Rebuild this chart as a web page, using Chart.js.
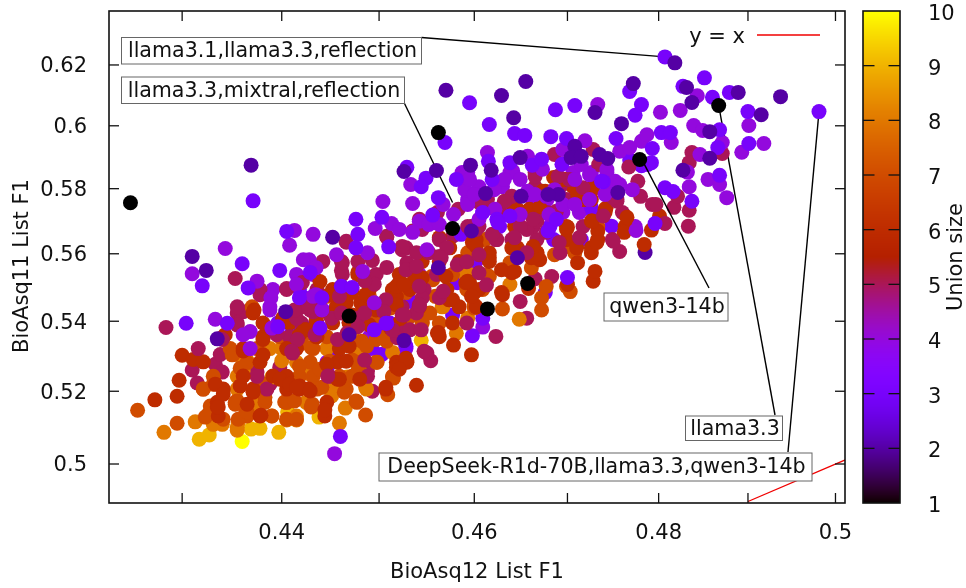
<!DOCTYPE html>
<html><head><meta charset="utf-8">
<script src="https://cdn.jsdelivr.net/npm/chart.js@4"></script>
<style>html,body{margin:0;background:#fff}canvas{display:block}</style></head>
<body><canvas id="c" width="966" height="588"></canvas>
<script>
const xTicks=[.43,.44,.45,.46,.47,.48,.49,.5];
const xLabelled=[.44,.46,.48,.5];
const yTicks=[.5,.52,.54,.56,.58,.6,.62];
const cbTicks=[1,2,3,4,5,6,7,8,9,10];
const size1=[[.4249,.5756],[.4562,.5978],[.4867,.6066],[.4779,.5892],[.4577,.5677],[.4657,.5511],[.4614,.5436],[.4469,.5415]];
const size2=[[.4369,.5874],[.4452,.565],[.431,.5592],[.457,.6116],[.4526,.5854],[.456,.5857],[.4596,.5874],[.4655,.6145],[.4629,.6099],[.4642,.6026],[.4772,.6138],[.473,.6043],[.4759,.6007],[.4818,.6207],[.4831,.6125],[.4837,.6076],[.4889,.6109],[.4937,.6095],[.4915,.6036],[.4857,.5981],[.4857,.5896],[.4708,.5934],[.4704,.5898],[.4715,.5902],[.4735,.5908],[.4744,.5895],[.4649,.5898],[.4618,.5858],[.4612,.5785],[.465,.5776],[.4755,.5788],[.4827,.5858],[.469,.5782],[.4679,.5782],[.4324,.555],[.4335,.5349],[.4404,.5428],[.4469,.5361],[.4526,.5344],[.4562,.5558],[.4597,.5669],[.4646,.5588]];
const size3=[[.4371,.5762],[.4476,.5705],[.4478,.5659],[.4476,.5618],[.4503,.5711],[.451,.5621],[.4405,.5668],[.4595,.6075],[.4569,.5946],[.4549,.5833],[.4544,.5806],[.4562,.5772],[.4581,.5829],[.4556,.5718],[.4529,.5867],[.4616,.6004],[.4643,.5975],[.4654,.5969],[.4682,.5965],[.4699,.5959],[.4687,.6052],[.4708,.6066],[.4768,.6112],[.4781,.6069],[.4774,.6034],[.4753,.5959],[.4803,.5978],[.4813,.5978],[.4793,.5927],[.4851,.6157],[.4827,.6129],[.486,.6093],[.4879,.6109],[.49,.6046],[.4901,.5943],[.4868,.5987],[.4866,.593],[.4868,.5842],[.4981,.6046],[.4837,.5761],[.4807,.5803],[.4816,.5791],[.4788,.5876],[.4807,.6227],[.4638,.5882],[.4615,.5886],[.4662,.5874],[.4672,.5893],[.4694,.5877],[.4619,.5829],[.4739,.5822],[.4624,.5705],[.4737,.5823],[.4609,.5726],[.4638,.5715],[.4625,.5695],[.4688,.5705],[.4679,.5669],[.4398,.555],[.4429,.5544],[.4418,.5469],[.4461,.5503],[.4396,.5384],[.4472,.5499],[.4495,.5375],[.4508,.5394],[.4439,.538],[.4507,.5394],[.4304,.5394],[.432,.5504],[.436,.557],[.4366,.5498],[.4345,.5394],[.446,.5075],[.47,.5529],[.4796,.5692],[.4441,.5469]];
const size4=[[.4504,.576],[.4535,.5754],[.4533,.5813],[.4496,.5677],[.4513,.5692],[.4432,.5659],[.4413,.5671],[.4408,.5626],[.4343,.5616],[.4456,.5597],[.4488,.5603],[.4542,.5699],[.4535,.5665],[.455,.5612],[.459,.5797],[.4593,.5757],[.4587,.5851],[.4614,.5914],[.4733,.6069],[.4802,.6044],[.4824,.605],[.4843,.6098],[.4839,.6001],[.4849,.5985],[.4901,.6001],[.4918,.5943],[.4893,.5915],[.4871,.5946],[.4846,.5908],[.4832,.5852],[.4834,.5806],[.4855,.5829],[.4868,.5813],[.4876,.5772],[.4719,.5952],[.4814,.5946],[.4781,.595],[.4787,.5971],[.4757,.5918],[.4768,.593],[.4771,.5797],[.4715,.5876],[.4641,.5855],[.4673,.5861],[.4743,.586],[.4724,.5844],[.4752,.5823],[.4657,.5902],[.4695,.5924],[.4591,.5839],[.4657,.5792],[.4677,.5776],[.4593,.5751],[.4695,.5751],[.4775,.5671],[.431,.554],[.4375,.5518],[.4333,.5406],[.4389,.5469],[.4428,.5582],[.4454,.5028],[.4422,.5582],[.4415,.5508],[.4368,.537],[.4361,.5361],[.4435,.5478],[.4368,.5321],[.4435,.5558],[.4432,.5473],[.4388,.5433],[.439,.538],[.4441,.5433],[.4483,.5547],[.4495,.5454],[.46,.5782],[.4595,.5829],[.4605,.5705],[.4621,.5797],[.4632,.5829],[.4649,.5829],[.4665,.5782],[.4686,.5797],[.4708,.5829],[.4724,.5766],[.4741,.5782],[.4757,.5813],[.4708,.5751],[.468,.572],[.4649,.572],[.4622,.5736],[.4578,.572],[.4567,.5751],[.4552,.5689],[.4521,.5674],[.4563,.5689]];
const size5=[[.4583,.5736],[.4561,.5726],[.4545,.5674],[.4508,.565],[.4466,.5635],[.4528,.5618],[.4539,.5603],[.4598,.5684],[.4493,.558],[.4478,.5577],[.4461,.5577],[.4442,.5577],[.4665,.5838],[.4686,.5908],[.4728,.5924],[.4734,.5876],[.4767,.5868],[.4777,.5823],[.4807,.5692],[.4793,.5751],[.4837,.5914],[.4834,.5882],[.4821,.5776],[.464,.5776],[.4611,.5757],[.4627,.5736],[.4667,.57],[.4717,.5803],[.4702,.5829],[.469,.5839],[.4754,.5761],[.4739,.5715],[.475,.5638],[.4623,.5643],[.4602,.5674],[.4605,.5757],[.4656,.5674],[.4691,.5634],[.4713,.5649],[.4284,.5382],[.4353,.5526],[.4378,.5478],[.4405,.5496],[.4316,.5321],[.434,.5347],[.4461,.555],[.4508,.5559],[.4495,.5509],[.4485,.5519],[.4461,.5503],[.4432,.5428],[.4415,.5409],[.4525,.5366],[.4507,.5463],[.4542,.5443],[.4563,.5592],[.4529,.5573],[.4355,.5389],[.4524,.5418],[.4429,.5433],[.4467,.5366],[.4447,.5243],[.4547,.5313],[.4532,.5375],[.4451,.5409],[.4478,.5409],[.4505,.5428],[.4563,.5469],[.4542,.5705],[.4535,.5669],[.4563,.5643],[.4649,.5684],[.4524,.5612],[.4528,.5552],[.4582,.5567],[.4571,.5618],[.4619,.5659],[.4552,.5603],[.4567,.5488],[.4663,.5705],[.4613,.5507],[.4605,.5543],[.4592,.5576],[.4395,.5361],[.4411,.5308],[.4427,.5442],[.4459,.5473],[.4413,.5433],[.4539,.5424],[.4526,.5418],[.4485,.5424],[.4461,.5424],[.4434,.5361],[.4416,.5347],[.4457,.5347],[.4519,.5352],[.4544,.5375],[.4485,.5288],[.441,.5313],[.4478,.5384],[.4545,.5469],[.4421,.5514],[.4514,.5375],[.4462,.5573],[.4524,.5622],[.4508,.5653],[.4466,.5638],[.4539,.5562],[.4643,.5649],[.4656,.5603],[.4605,.5597],[.4565,.5588],[.4542,.5503],[.4632,.5761],[.4688,.573],[.4542,.5448],[.4797,.5751],[.4677,.5665],[.475,.5772]];
const size6=[[.4273,.5176],[.4295,.5186],[.4297,.5231],[.43,.5302],[.4311,.529],[.4321,.5283],[.4343,.5361],[.4361,.5314],[.4381,.5347],[.4439,.5517],[.4371,.5424],[.4539,.5217],[.4578,.5331],[.4597,.5303],[.4562,.5367],[.4333,.522],[.4341,.5192],[.4335,.5156],[.4365,.5164],[.4379,.5133],[.4371,.5197],[.4391,.5243],[.4418,.5215],[.4427,.5206],[.4457,.5234],[.4466,.5285],[.4446,.5276],[.4444,.5148],[.4518,.5268],[.4529,.5286],[.4418,.5361],[.4435,.5355],[.4381,.5303],[.4405,.5321],[.4401,.5409],[.4497,.5433],[.4514,.5491],[.4521,.5513],[.4545,.5528],[.457,.5532],[.4591,.5513],[.4573,.5463],[.4478,.5537],[.4472,.5484],[.4449,.5478],[.4792,.5672],[.4762,.5665],[.4733,.5669],[.4741,.5736],[.4765,.5711],[.4801,.5715],[.4784,.5628],[.4726,.5618],[.4646,.5736],[.4659,.5736],[.4726,.5792],[.4697,.5829],[.4673,.5792],[.4699,.5674],[.4646,.5618],[.4667,.5603],[.4616,.5588],[.4598,.5634],[.464,.5618],[.471,.5618],[.4726,.57],[.4685,.5835],[.4728,.5518],[.473,.5547],[.47,.5508],[.4711,.5573],[.467,.5582],[.463,.5478],[.464,.5543],[.4595,.5513],[.46,.5484],[.4661,.5588],[.4358,.5215],[.4371,.5201],[.4398,.5234],[.4408,.522],[.4415,.5211],[.4336,.5156],[.4361,.5243],[.4466,.5454],[.4481,.5454],[.4518,.5472],[.4577,.5463],[.4521,.5394],[.4512,.538],[.4472,.5418],[.4449,.5418],[.4435,.5403],[.4423,.5375],[.449,.5389],[.4469,.5328],[.4528,.5293],[.4521,.5262],[.448,.5234],[.4459,.5234],[.4429,.5201],[.4507,.5211],[.4561,.5366],[.4372,.5433],[.4403,.5403],[.4478,.5544],[.4518,.5503],[.4532,.5503],[.4486,.5478],[.4518,.5448],[.4483,.5433],[.4425,.5375],[.4563,.5649],[.4574,.5618],[.4602,.5622],[.4641,.5726],[.4657,.573],[.467,.5742],[.4616,.5577],[.4667,.5597],[.4537,.5532],[.4526,.5508],[.4574,.5463],[.4597,.5473],[.4593,.5518],[.4629,.5552],[.4643,.5547],[.4629,.5484],[.4663,.5622],[.4742,.5739],[.4727,.57],[.4732,.5634],[.47,.5681],[.4717,.5788],[.4711,.5782],[.4695,.5829],[.4676,.5792]];
const more5=[[.4375,.5242],[.4449,.5242],[.4488,.5242],[.4385,.5206],[.4341,.5355],[.4408,.5355],[.4466,.5355],[.4355,.5395],[.442,.5395],[.4521,.5395],[.4592,.5395],[.4355,.5442],[.4421,.5442],[.4439,.5442],[.4483,.5442],[.4524,.5442],[.4378,.5493],[.4405,.5493],[.4436,.5493],[.4547,.5493],[.4462,.5538],[.4497,.5538],[.456,.5538],[.4692,.5603],[.4624,.5643],[.464,.5643],[.4667,.5643],[.4749,.5643],[.4593,.5683],[.4605,.5683],[.4663,.5683],[.4717,.5683],[.4625,.5726],[.4678,.5726],[.476,.5726],[.4614,.5766],[.464,.5766],[.4699,.5766],[.4754,.5766],[.4665,.5806],[.4692,.5806],[.4665,.5851]];
const more6=[[.4361,.5321],[.4415,.5321],[.4459,.5321],[.4378,.5282],[.4457,.5282],[.4518,.5282],[.4529,.5282],[.4405,.5242],[.4341,.5206],[.4371,.5206],[.4405,.5206],[.4418,.5206],[.4507,.5206],[.4335,.5169],[.4446,.5169],[.4336,.5131],[.4378,.5131],[.4444,.5131],[.4381,.5355],[.4436,.5355],[.4563,.5355],[.4381,.5395],[.4408,.5395],[.4452,.5395],[.4469,.5395],[.4577,.5395],[.4456,.5442],[.4542,.5442],[.4584,.5442],[.4602,.5442],[.4452,.5493],[.449,.5493],[.4514,.5493],[.4532,.5493],[.4571,.5493],[.4605,.5493],[.4483,.5538],[.4521,.5538],[.4545,.5577],[.4563,.5577],[.4584,.5577],[.4616,.5603],[.4667,.5603],[.4726,.5603],[.4602,.5643],[.4699,.5643],[.4733,.5643],[.4643,.5683],[.4699,.5683],[.4763,.5683],[.4641,.5726],[.4659,.5726],[.4741,.5726],[.4717,.5766],[.4726,.5766],[.4706,.5806],[.4728,.5806]];
const size7=[[.4256,.5147],[.4295,.5111],[.4321,.5206],[.4486,.5134],[.4509,.519],[.4515,.5237],[.4476,.5173],[.4464,.5197],[.443,.5156],[.4405,.5169],[.439,.5131],[.4355,.5173],[.4383,.5183],[.4341,.5122],[.4326,.5136],[.4331,.522],[.4353,.5164],[.4363,.5136],[.4403,.517],[.435,.5303],[.4365,.5281],[.4383,.522],[.4413,.5173],[.4545,.5398],[.4439,.5262],[.4449,.5285],[.448,.5257],[.4418,.5333],[.4508,.5342],[.4498,.5282],[.4432,.5206],[.4703,.5487],[.4672,.5433],[.4672,.5469],[.4677,.5502],[.463,.5436],[.4593,.5493],[.4638,.5573],[.4609,.5493],[.46,.5439],[.4661,.5558],[.4636,.5552],[.4613,.5537],[.4556,.5522],[.4611,.5643],[.4705,.5618],[.4351,.5304],[.4358,.5265],[.4328,.5159],[.4323,.5128],[.4356,.5122],[.4365,.5142],[.4405,.5122],[.4415,.5122],[.4354,.5167],[.4415,.533],[.4446,.5473],[.449,.5473],[.4528,.5484],[.4553,.5424],[.4512,.5439],[.443,.5324],[.4482,.5342],[.4497,.5347],[.4472,.5288],[.4478,.5257],[.4514,.524],[.4418,.5271],[.4441,.5211],[.4431,.5164],[.4493,.5403],[.4476,.5384],[.4505,.5352],[.4487,.5328],[.4532,.5413],[.4616,.5532],[.4555,.5532],[.4559,.5473],[.4686,.5597],[.4699,.5502],[.46,.5448]];
const more7=[[.4348,.5321],[.4375,.5321],[.4432,.5321],[.4429,.5282],[.4477,.5282],[.4497,.5282],[.4331,.5242],[.4418,.5242],[.4432,.5242],[.4459,.5242],[.4472,.5242],[.4514,.5242],[.4321,.5206],[.4436,.5206],[.4466,.5206],[.4353,.5169],[.4383,.5169],[.4405,.5169],[.4477,.5169],[.4365,.5131],[.4398,.5355],[.4421,.5355],[.4446,.5355],[.4507,.5355],[.4497,.5395],[.4545,.5395],[.4563,.5395],[.437,.5442],[.4507,.5442],[.4472,.5493],[.4592,.5493],[.4577,.5538],[.4593,.5603],[.4708,.5603],[.4733,.5683]];
const size8=[[.4282,.5086],[.4313,.5115],[.434,.5108],[.4356,.5114],[.4355,.5092],[.4451,.5187],[.4465,.5153],[.4459,.5111],[.4405,.512],[.4415,.512],[.4376,.5159],[.4593,.5409],[.4581,.5365],[.4477,.5317],[.4446,.5321],[.4365,.5286],[.44,.5286],[.4361,.5257],[.4514,.531],[.4486,.5211],[.4567,.5443],[.4638,.5508],[.4648,.5406],[.4331,.5108],[.4589,.5543],[.4467,.524],[.4429,.5248],[.4355,.51]];
const more8=[[.4388,.5321],[.44,.5321],[.4477,.5321],[.4361,.5282],[.4415,.5282],[.4355,.5242],[.4355,.5206],[.4452,.5206],[.4487,.5206],[.4375,.5169],[.4425,.5169],[.4325,.5131],[.439,.5131],[.4415,.5131],[.4472,.5355],[.4566,.5442],[.4595,.5538]];
const size9=[[.4317,.5067],[.4327,.5079],[.4369,.5095],[.4378,.5097],[.4397,.5086],[.4438,.5128],[.4406,.5142],[.4544,.5345],[.439,.524]];
const size10=[[.436,.5061]];
const front2=[[.4785,.5604]];
const front3=[[.4533,.5458],[.4495,.5449],[.4497,.537],[.4492,.5324],[.4502,.5304],[.4519,.529],[.4528,.5328],[.4447,.5271],[.4456,.531],[.4442,.5433],[.4456,.5442],[.4421,.5472],[.4421,.5389],[.441,.5366],[.4577,.5418],[.4582,.5513],[.46,.5577],[.4676,.5484],[.4586,.5659],[.4748,.5684],[.4726,.5742],[.4686,.5715],[.4609,.5409],[.4598,.5358],[.4365,.5317],[.4396,.5395],[.4436,.5395],[.4511,.5395],[.4418,.5493],[.4627,.5683],[.4681,.5683],[.4609,.5726],[.4728,.5726],[.4685,.5643],[.4715,.5643],[.4781,.5872],[.4768,.589],[.4792,.5882]];
const front4=[[.4493,.5449],[.4503,.5304],[.4609,.5383],[.4492,.5321],[.4528,.5321],[.4446,.5282],[.449,.5355],[.4388,.5442],[.4391,.5493],[.4415,.5538],[.4432,.5538],[.4542,.5538],[.4602,.5577],[.4774,.5683],[.4695,.5726],[.4713,.5726],[.4593,.5766],[.4662,.5766],[.4678,.5766],[.4605,.5806],[.463,.5806],[.4749,.5806],[.4593,.5851],[.4638,.5851],[.4706,.5851],[.4726,.5851],[.4743,.5851]];
const front5=[[.4493,.52],[.4554,.5286],[.455,.5308],[.4488,.5257],[.4483,.5285],[.4388,.522],[.4375,.5254],[.4315,.5223],[.4333,.5276],[.434,.5254],[.431,.526],[.4649,.5458],[.4656,.5409],[.4623,.5356],[.4683,.5532],[.4665,.5525],[.4398,.5268],[.4338,.5304],[.4355,.5424],[.4361,.5428],[.4833,.5684],[.4834,.5733],[.478,.5776],[.4817,.5742],[.4871,.5911],[.4757,.5607],[.4469,.5397],[.4577,.5653]];
const front6=[[.4658,.5496]];
const layers=[[size1,1],[size2,2],[size3,3],[size4,4],[size5,5],[size6,6],[more5,5],[more6,6],[size7,7],[more7,7],[size8,8],[more8,8],[size9,9],[size10,10],[front2,2],[front3,3],[front4,4],[front5,5],[front6,6]];
const identityLine=[.49,.5012];
const legendText='y = x';
const callouts=[
 {text:'llama3.1,llama3.3,reflection',box:[121.5,37.5,300,26.5],from:[421.5,37.5],to:[.4807,.6227]},
 {text:'llama3.3,mixtral,reflection',box:[121.5,77,283,26.5],from:[404.5,103.5],to:[.4577,.5757]},
 {text:'qwen3-14b',box:[604,293,124,28],from:[709,288],to:[.4779,.5905],over:true},
 {text:'llama3.3',box:[685.5,416,97,24.5],from:[775,415],to:[.4867,.6066]},
 {text:'DeepSeek-R1d-70B,llama3.3,qwen3-14b',box:[379,453,433,28],from:[788,452],to:[.4981,.6046]}
];
function palette(v){const g=(v-1)/9,r=Math.sqrt(g),gr=g*g*g,b=Math.max(0,Math.sin(2*Math.PI*g));
 return `rgb(${Math.round(r*255)},${Math.round(gr*255)},${Math.round(b*255)})`;}
const FONT='"DejaVu Sans"',INK='#111';
function setTicks(vals){return s=>{s.ticks=vals.map(v=>({value:v}));};}
function noPad(s){s.paddingTop=s.paddingBottom=s.paddingLeft=s.paddingRight=0;}
function strokeSeg(c,a,b,d,e,w,col){c.beginPath();c.strokeStyle=col||INK;c.lineWidth=w||1.3;c.moveTo(a,b);c.lineTo(d,e);c.stroke();}
function drawLeaders(chart,over){const c=chart.ctx,X=chart.scales.x,Y=chart.scales.y;c.save();
 callouts.filter(o=>!!o.over===over).forEach(o=>strokeSeg(c,o.from[0],o.from[1],X.getPixelForValue(o.to[0]),Y.getPixelForValue(o.to[1]),1.4,'#000'));c.restore();}
const decor={id:'decor',
 beforeDatasetsDraw(chart){drawLeaders(chart,false);},
 afterDatasetsDraw(chart){const c=chart.ctx,a=chart.chartArea,X=chart.scales.x,Y=chart.scales.y,CB=chart.scales.cb;
  drawLeaders(chart,true);c.save();
  const T=10;X.ticks.forEach(t=>{const p=X.getPixelForValue(t.value);strokeSeg(c,p,a.bottom,p,a.bottom-T);strokeSeg(c,p,a.top,p,a.top+T);});
  Y.ticks.forEach(t=>{const p=Y.getPixelForValue(t.value);strokeSeg(c,a.left,p,a.left+T,p);strokeSeg(c,a.right,p,a.right-T,p);});
  c.lineWidth=1.6;c.strokeStyle=INK;c.strokeRect(a.left,a.top,a.right-a.left,a.bottom-a.top);
  c.font='20.6px '+FONT;c.textBaseline='middle';c.textAlign='center';
  callouts.forEach(o=>{const[b0,b1,w,h]=o.box;c.fillStyle='#fff';c.fillRect(b0,b1,w,h);c.strokeStyle='#666';c.lineWidth=1;c.strokeRect(b0,b1,w,h);
   c.fillStyle=INK;c.fillText(o.text,b0+w/2+1,b1+h/2+1);});
  c.font='21px '+FONT;c.textAlign='right';c.fillStyle=INK;c.fillText(legendText,745,38);strokeSeg(c,757,35,820,35,1.3,'#f00000');
  const L=863,R=900;for(let p=Math.floor(a.top);p<a.bottom;p++){c.fillStyle=palette(Math.min(10,Math.max(1,CB.getValueForPixel(p+.5))));c.fillRect(L,p,R-L,1);}
  CB.ticks.forEach(t=>{if(t.value===1||t.value===10)return;const p=CB.getPixelForValue(t.value);strokeSeg(c,L,p,L+11.5,p,1.3);strokeSeg(c,R-11.5,p,R,p,1.3);});
  c.lineWidth=1.6;c.strokeStyle=INK;c.strokeRect(L,a.top,R-L,a.bottom-a.top);
  c.fillStyle=INK;c.textAlign='center';c.font='21px '+FONT;
  [['BioAsq11 List F1',22.5,266],['Union size',957,257]].forEach(([s,x,y])=>{c.save();c.translate(x,y);c.rotate(-Math.PI/2);c.fillText(s,0,0);c.restore();});
  c.restore();}
};
const tickFont={family:FONT,size:21};
const datasets=[{type:'line',data:identityLine.map(v=>({x:v,y:v})),borderColor:'#f00000',borderWidth:1.3,pointRadius:0,parsing:false}]
 .concat(layers.map(([pts,s])=>({type:'scatter',label:'Union size '+s,data:pts.map(p=>({x:p[0],y:p[1]})),backgroundColor:palette(s),borderWidth:0,pointRadius:7.5,pointHoverRadius:7.5})));
new Chart(document.getElementById('c'),{data:{datasets},plugins:[decor],options:{
 responsive:false,animation:false,devicePixelRatio:1,
 layout:{autoPadding:false,padding:{top:11,right:0,left:0,bottom:0}},
 plugins:{legend:{display:false},tooltip:{enabled:false}},
 scales:{
  x:{type:'logarithmic',min:.4228,max:.5011,afterBuildTicks:setTicks(xTicks),afterFit(s){s.height=85;noPad(s);},
   grid:{display:false},border:{display:false},
   title:{display:true,text:'BioAsq12 List F1',font:{family:FONT,size:21},color:INK,padding:{top:15,bottom:3}},
   ticks:{autoSkip:false,maxRotation:0,minRotation:0,padding:10,color:INK,font:tickFont,callback:v=>xLabelled.includes(v)?String(v):''}},
  y:{type:'logarithmic',min:.4896,max:.6383,afterBuildTicks:setTicks(yTicks),afterFit(s){s.width=109;noPad(s);},
   grid:{display:false},border:{display:false},
   ticks:{autoSkip:false,padding:14,labelOffset:2,color:INK,font:tickFont,callback:v=>String(v)}},
  cb:{type:'linear',position:'right',min:1,max:10,afterBuildTicks:setTicks(cbTicks),afterFit(s){s.width=121;noPad(s);},
   grid:{display:false},border:{display:false},
   ticks:{autoSkip:false,padding:75,labelOffset:3.5,color:INK,font:tickFont,callback:v=>String(v)}}
 }}});
</script></body></html>
